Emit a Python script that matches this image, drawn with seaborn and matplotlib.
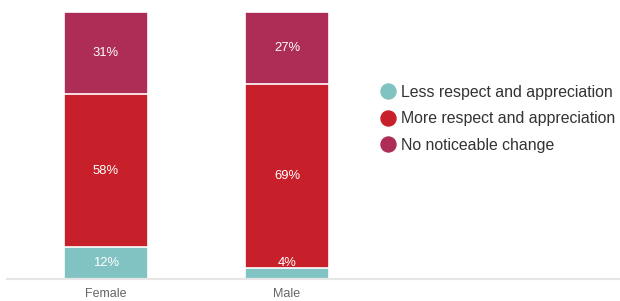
import matplotlib
matplotlib.use("Agg")
import matplotlib.pyplot as plt
from matplotlib.lines import Line2D
import seaborn as sns
import pandas as pd
import numpy as np

categories = ["Female", "Male"]
series_names = ["Less respect and appreciation", "More respect and appreciation", "No noticeable change"]
less_vals = [12, 4]
more_vals = [58, 69]
nochange_vals = [31, 27]
colors = ["#80c3c2", "#c8202a", "#ae2d56"]

sns.set_theme(style="white")
plt.rcParams["font.family"] = ["Liberation Sans", "DejaVu Sans"]

vals = np.array([less_vals, more_vals, nochange_vals], dtype=float)  # series x category
totals = vals.sum(axis=0)
pct = vals / totals * 100.0
cum = np.cumsum(pct, axis=0)

fig = plt.figure(figsize=(6.2, 3.01), dpi=100)
ax = fig.add_axes([7 / 620, 22 / 301, 613 / 620, 267 / 301])

# draw from top of stack down so each lower segment overlays the one above
for i in reversed(range(len(series_names))):
    df = pd.DataFrame({"cat": categories, "val": cum[i]})
    sns.barplot(data=df, x="cat", y="val", color=colors[i], width=0.464,
                edgecolor="white", linewidth=1.2, saturation=1, ax=ax)

# segment labels
min_center = 6.0
for j, cat in enumerate(categories):
    bottom = 0.0
    for i in range(len(series_names)):
        top = cum[i, j]
        mid = (bottom + top) / 2
        y = max(mid, min_center) if i == 0 else mid
        ax.text(j, y, f"{int(vals[i, j])}%", ha="center", va="center",
                color="white", fontsize=9.4)
        bottom = top

ax.set_xlim(-0.547, 2.840)
ax.set_ylim(0, 100)
ax.set_xlabel("")
ax.set_ylabel("")
ax.set_yticks([])
for s in ["top", "right", "left"]:
    ax.spines[s].set_visible(False)
ax.spines["bottom"].set_color("#e6e6e6")
ax.spines["bottom"].set_linewidth(1.6)
ax.tick_params(axis="x", length=0, pad=6.5, labelsize=9, labelcolor="#666666")

handles = [Line2D([0], [0], marker="o", linestyle="", markersize=10.8,
                  markerfacecolor=c, markeredgecolor=c) for c in colors]
fig.legend(handles, series_names, loc="upper left",
           bbox_to_anchor=(380 / 620, 1 - 85 / 301), frameon=False,
           fontsize=11.4, labelcolor="#333333", handlelength=1.0,
           handletextpad=0.3, labelspacing=0.72, borderpad=0, borderaxespad=0)

fig.savefig("out.png", dpi=100)
